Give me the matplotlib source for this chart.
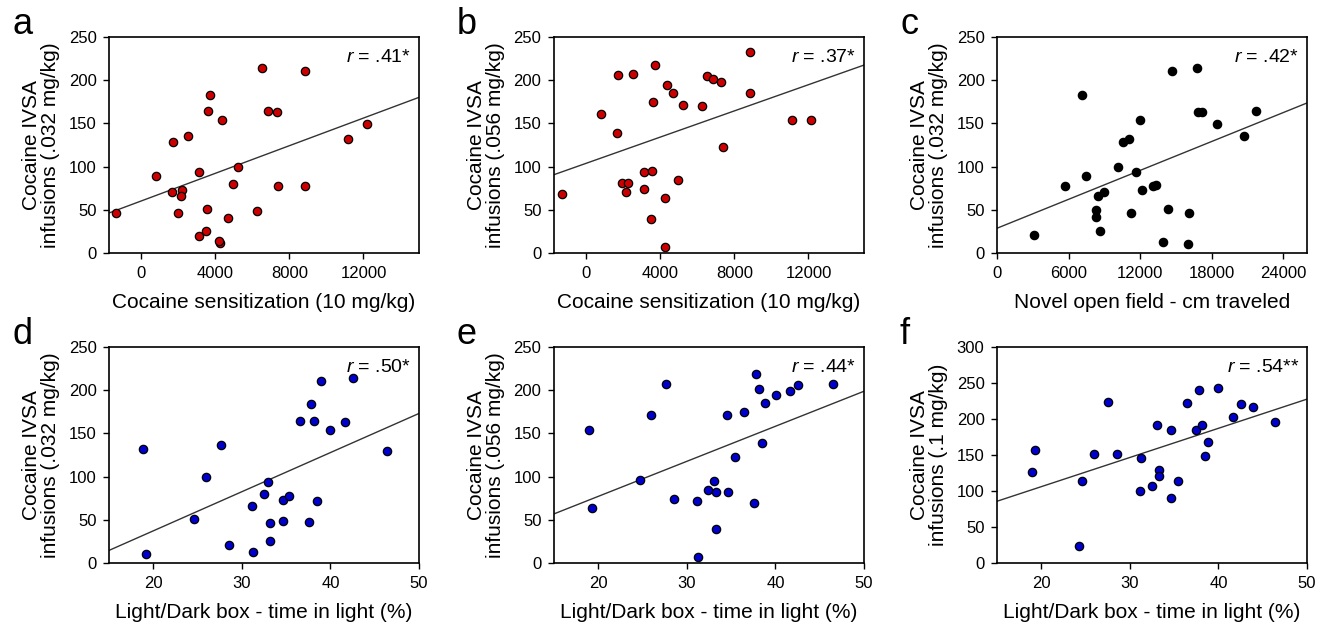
import numpy as np
import matplotlib
matplotlib.use('Agg')
import matplotlib.pyplot as plt

plt.rcParams['font.family'] = ['Liberation Sans', 'DejaVu Sans']
plt.rcParams['mathtext.fontset'] = 'custom'
plt.rcParams['mathtext.it'] = 'Liberation Sans:italic'
plt.rcParams['mathtext.rm'] = 'Liberation Sans'

# panel a: sensitization vs IVSA .032
a_x = [-1357, 796, 1683, 1647, 1991, 2208, 2136, 2534, 3131, 3113, 3511, 3529,
       3602, 3710, 4253, 4200, 4380, 4959, 5231, 4706, 6262, 6534, 6842, 7330,
       7366, 8851, 8851, 11149, 12181]
a_y = [46, 89.5, 129, 71, 46, 73, 66, 135, 94, 20, 25, 51,
       164, 183, 12, 14, 154, 79.5, 99, 41, 49, 214, 164, 163,
       78, 211, 78, 132, 149]

# panel b: sensitization vs IVSA .056
b_x = [-1336, 794, 1661, 1697, 2527, 1949, 2238, 2148, 3123, 3520, 3123, 3502,
       3574, 3718, 4368, 4693, 4260, 4260, 4928, 5235, 6245, 6498, 6841, 7292,
       7365, 8863, 8863, 11083, 12148]
b_y = [68.7, 160.5, 139, 206, 207, 81, 81, 70.6, 94, 95, 74, 39,
       175, 218, 194, 185, 64, 7, 84, 171, 170.5, 205, 201, 198,
       123, 233, 185, 154, 154]

# panel c: open field vs IVSA .032
c_x = [3098, 5666, 7145, 7424, 8345, 8345, 8484, 8680, 8959, 10187, 10550, 11108,
       11220, 11666, 12029, 12141, 13117, 13341, 13955, 14318, 14680, 16020, 16076,
       16774, 16885, 17164, 18476, 20680, 21741]
c_y = [20.4, 78, 183, 89.5, 50, 41.7, 66, 25.5, 71, 99.5, 129, 132,
       46, 94, 153.5, 73, 78, 79, 12.7, 51, 211, 10.4, 46,
       214, 163.6, 163, 149, 135, 164]

# panel d: light/dark vs IVSA .032
d_x = [18.87, 19.2, 24.6, 25.9, 27.6, 28.5, 31.1, 31.3, 32.5, 33.0, 33.2, 33.2,
       34.6, 34.6, 35.35, 36.6, 37.6, 37.85, 38.1, 38.45, 38.9, 40.0, 41.6, 42.6, 46.4]
d_y = [132, 10.8, 51, 100, 136, 20.5, 66, 13, 80, 94, 46, 25.5,
       49, 73, 78, 164, 47, 184, 164, 71.6, 211, 154, 163.7, 214, 129.6]

# panel e: light/dark vs IVSA .056
e_x = [18.94, 19.28, 24.68, 25.96, 27.62, 28.57, 31.2, 31.28, 32.4, 33.06, 33.25,
       33.25, 34.6, 34.57, 35.4, 36.5, 37.58, 37.85, 38.15, 38.53, 38.8, 40.04,
       41.6, 42.6, 46.45]
e_y = [154, 64, 95.7, 171.7, 207, 74.5, 71.8, 7.3, 84, 94.5, 81.8,
       39.7, 81.8, 171, 123, 175, 69, 218.8, 201.8, 139, 185, 194.4,
       198.7, 205.6, 206.8]

# panel f: light/dark vs IVSA .1
f_x = [18.94, 19.28, 24.3, 24.64, 25.96, 27.58, 28.52, 31.17, 31.28, 32.49, 33.01,
       33.31, 33.31, 34.63, 34.63, 35.43, 36.5, 37.5, 37.85, 38.1, 38.47, 38.85,
       40.0, 41.6, 42.6, 43.86, 46.42]
f_y = [126.9, 156.5, 23.6, 114.4, 151.4, 223.6, 151.4, 100.5, 145.4, 107, 191.7,
       128.7, 120.4, 90.3, 184.3, 113.9, 221.8, 184.3, 240.3, 191.7, 148.6, 167.6,
       242.6, 203.2, 220.4, 216.2, 196.3]

letters = ['a', 'b', 'c', 'd', 'e', 'f']
r_text = ['.41*', '.37*', '.42*', '.50*', '.44*', '.54**']
ylabels = ['Cocaine IVSA\ninfusions (.032 mg/kg)', 'Cocaine IVSA\ninfusions (.056 mg/kg)',
           'Cocaine IVSA\ninfusions (.032 mg/kg)', 'Cocaine IVSA\ninfusions (.032 mg/kg)',
           'Cocaine IVSA\ninfusions (.056 mg/kg)', 'Cocaine IVSA\ninfusions (.1 mg/kg)']
xlabels = ['Cocaine sensitization (10 mg/kg)', 'Cocaine sensitization (10 mg/kg)',
           'Novel open field - cm traveled', 'Light/Dark box - time in light (%)',
           'Light/Dark box - time in light (%)', 'Light/Dark box - time in light (%)']
colors = ['#cc0000', '#cc0000', '#000000', '#0000cc', '#0000cc', '#0000cc']

xs = [a_x, b_x, c_x, d_x, e_x, f_x]
ys = [a_y, b_y, c_y, d_y, e_y, f_y]
xlims = [(-1750, 15000), (-1750, 15000), (0, 26000), (15, 50), (15, 50), (15, 50)]
xticks = [[0, 4000, 8000, 12000], [0, 4000, 8000, 12000], [0, 6000, 12000, 18000, 24000],
          [20, 30, 40, 50], [20, 30, 40, 50], [20, 30, 40, 50]]
ylims = [250, 250, 250, 250, 250, 300]

fig = plt.figure(figsize=(13.32, 6.29), dpi=100)
lefts = [109, 554, 997]
tops = [37, 347]
for i in range(6):
    row, col = i // 3, i % 3
    l = lefts[col] / 1332.
    b = 1 - (tops[row] + 216) / 629.
    ax = fig.add_axes([l, b, 310 / 1332., 216 / 629.])

    x = np.array(xs[i], dtype=float)
    y = np.array(ys[i], dtype=float)
    k, c0 = np.polyfit(x, y, 1)
    xl = np.array(xlims[i], dtype=float)
    ax.plot(xl, k * xl + c0, color='#333333', lw=1.0, zorder=1)
    ax.scatter(x, y, s=36, c=colors[i], edgecolors='black', linewidths=0.9, zorder=3)

    ax.set_xlim(*xlims[i])
    ax.set_ylim(0, ylims[i])
    ax.set_xticks(xticks[i])
    ax.set_yticks(np.arange(0, ylims[i] + 1, 50))
    ax.tick_params(direction='out', length=4, width=1, labelsize=12, pad=5)
    for s in ax.spines.values():
        s.set_linewidth(1.2)
    ax.set_xlabel(xlabels[i], fontsize=15, labelpad=9)
    ax.set_ylabel(ylabels[i], fontsize=15, labelpad=6, linespacing=1.0)
    ax.text(0.975, 0.905, r'$\it{r}$ = ' + r_text[i], transform=ax.transAxes,
            ha='right', va='center', fontsize=14)
    fig.text((lefts[col] - 97) / 1332., 1 - (tops[row] - 12) / 629., letters[i],
             fontsize=26, ha='left', va='center')

fig.savefig('out.png', dpi=100)
